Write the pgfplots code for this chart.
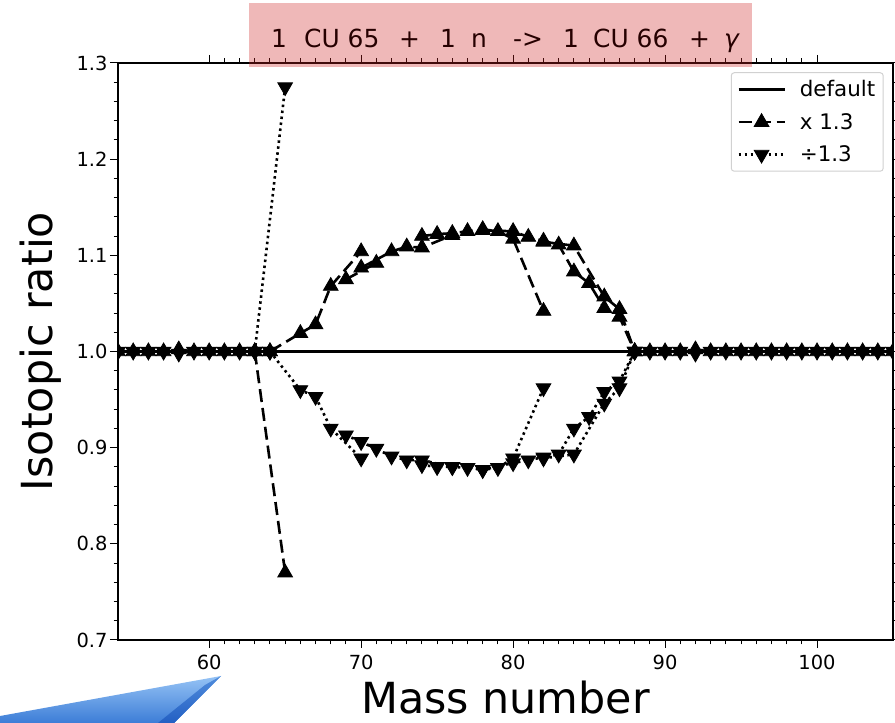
\documentclass[border=0pt]{standalone}
\usepackage{pgfplots}
\pgfplotsset{compat=1.18}
\usepackage{fontspec}
\setmainfont{DejaVu Sans}
\definecolor{titlered}{RGB}{205,35,35}
\begin{document}
\begin{tikzpicture}[x=1bp,y=1bp]
\path[use as bounding box] (0,0) rectangle (895,723);
\begin{axis}[
  at={(118bp,83bp)}, anchor=south west,
  scale only axis, width=775bp, height=577bp,
  xmin=54, xmax=105, ymin=0.7, ymax=1.3,
  xtick={60,70,80,90,100}, ytick={0.7,0.8,0.9,1.0,1.1,1.2,1.3},
  minor x tick num=9, minor y tick num=4,
  tick align=outside, major tick length=8bp, minor tick length=4.5bp,
  every tick/.style={black, line width=1bp},
  axis line style={line width=1.2bp},
  tick label style={font=\fontsize{19.5}{22}\selectfont},
  xticklabel style={yshift=-4bp},
  yticklabel style={xshift=1bp},
  /pgf/number format/assume math mode=true,
  yticklabel style={/pgf/number format/fixed, /pgf/number format/precision=1, /pgf/number format/fixed zerofill},
  xlabel={Mass number}, ylabel={Isotopic ratio},
  label style={font=\fontsize{43}{50}\selectfont},
  xlabel style={at={(axis description cs:0.5,-0.127)}, anchor=base},
  ylabel style={at={(axis description cs:-0.085,0.5)}, anchor=base},
  unbounded coords=jump,
  clip marker paths=true,
  legend cell align=left,
  legend style={at={(0.988,0.984)}, anchor=north east, draw=black!18, rounded corners=3bp, line width=1bp,
    font=\fontsize{21.5}{25}\selectfont, inner xsep=6bp, inner ysep=6bp, row sep=11bp},
  legend image code/.code={\draw[mark repeat=2,mark phase=2,#1] plot coordinates {(0bp,0bp)(23bp,0bp)(46bp,0bp)}; \path (58bp,0bp);},
]
\addplot[black, line width=2.5bp, mark=none] coordinates {(54,1)(105,1)};
\addlegendentry{default}
\addplot[black, line width=2.6bp, dash pattern=on 13bp off 6bp, mark=triangle*, mark size=8.5bp,
  mark options={solid, fill=black, line width=0.8bp}] coordinates {
(54,1)(55,1)(56,1)(57,1)(58,1.002)(59,1)(60,1)(61,1)(62,1)(63,1)(64,1)
(64,nan)
(63,1)(65,0.77)
(65,nan)
(64,1)(66,1.019)(67,1.028)(68,1.068)(70,1.104)
(70,nan)
(69,1.075)(71,1.092)
(71,nan)
(70,1.087)(72,1.104)(73,1.109)(74,1.108)(76,1.121)
(76,nan)
(74,1.120)(75,1.122)(76,1.123)(77,1.125)(78,1.127)(79,1.125)(80,1.117)(82,1.042)
(82,nan)
(78,1.126)(80,1.125)(81,1.119)(82,1.115)(83,1.111)(84,1.083)(85,1.071)(86,1.045)(87,1.036)(88,1.0)
(88,nan)
(82,1.114)(84,1.110)(86,1.057)(87,1.044)(88,1.0)
(88,nan)
(88,1)(89,1)(90,1)(91,1)(92,1.002)(93,1)(94,1)(95,1)(96,1)(97,1)(98,1)(99,1)(100,1)(101,1)(102,1)(103,1)(104,1)(105,1)
};
\addlegendentry{x 1.3}
\addplot[black, line width=2.6bp, dash pattern=on 2.5bp off 3.5bp, mark=triangle*, mark size=8.5bp,
  mark options={solid, fill=black, line width=0.8bp, rotate=180}] coordinates {
(54,1)(55,1)(56,1)(57,1)(58,0.998)(59,1)(60,1)(61,1)(62,1)(63,1)(64,1)
(64,nan)
(63,1)(65,1.275)
(65,nan)
(64,1)(66,0.960)(67,0.953)(68,0.920)(70,0.889)
(70,nan)
(69,0.913)(71,0.899)
(71,nan)
(70,0.906)(72,0.891)(73,0.887)(74,0.887)(76,0.880)
(76,nan)
(74,0.882)(75,0.880)(76,0.880)(77,0.879)(78,0.877)(79,0.879)(80,0.889)(82,0.962)
(82,nan)
(78,0.877)(80,0.884)(81,0.887)(82,0.890)(83,0.893)(84,0.920)(85,0.932)(86,0.958)(87,0.969)(88,1.0)
(88,nan)
(82,0.889)(84,0.893)(86,0.946)(87,0.962)(88,1.0)
(88,nan)
(88,1)(89,1)(90,1)(91,1)(92,0.998)(93,1)(94,1)(95,1)(96,1)(97,1)(98,1)(99,1)(100,1)(101,1)(102,1)(103,1)(104,1)(105,1)
};
\addlegendentry{÷1.3}
\end{axis}
% title box
\fill[titlered, fill opacity=0.32] (249,656) rectangle (752,720);
\node[anchor=base west, inner sep=0pt, font=\fontsize{25}{30}\selectfont, text=black!85!red] at (271,675)
 {\makebox[33bp][l]{1}\makebox[95bp][l]{CU 65}\makebox[41bp][l]{+}\makebox[31bp][l]{1}\makebox[42bp][l]{n}\makebox[50bp][l]{->}\makebox[30bp][l]{1}\makebox[96bp][l]{CU 66}\makebox[35bp][l]{+}\textit{γ}};
% blue arrow decoration
\shade[top color={rgb,255:red,150;green,195;blue,245}, bottom color={rgb,255:red,60;green,125;blue,215}]
  (0,7) -- (221,47) -- (174,0) -- (0,0) -- cycle;
\shade[top color={rgb,255:red,80;green,140;blue,220}, bottom color={rgb,255:red,35;green,95;blue,195}]
  (221,47) -- (174,0) -- (158,0) -- (205,38) -- cycle;
\end{tikzpicture}
\end{document}
